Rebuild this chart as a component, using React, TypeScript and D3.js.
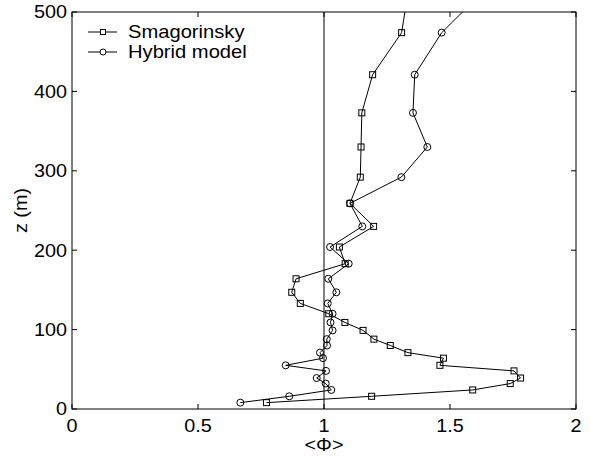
import React from 'react';
import * as d3 from 'd3';

// heights (m) of the sample levels; last one lies above the plot top and gets clipped
const zLevels = [8, 16, 24, 32, 39, 48, 55, 64, 71, 80, 88, 99, 109, 120, 133, 147, 164, 183, 204, 230, 259, 292, 330, 373, 421, 474, 530];
const smagorinsky = [0.772, 1.189, 1.590, 1.739, 1.780, 1.754, 1.460, 1.474, 1.333, 1.263, 1.198, 1.155, 1.083, 1.019, 0.906, 0.872, 0.889, 1.084, 1.061, 1.197, 1.103, 1.144, 1.147, 1.150, 1.193, 1.308, 1.336];
const hybrid = [0.668, 0.862, 1.029, 1.007, 0.971, 1.008, 0.848, 0.996, 0.984, 1.012, 1.011, 1.034, 1.026, 1.034, 1.015, 1.049, 1.017, 1.098, 1.024, 1.152, 1.103, 1.307, 1.410, 1.353, 1.360, 1.467, 1.645];

const xTicks = [0, 0.5, 1, 1.5, 2];
const yTicks = [0, 100, 200, 300, 400, 500];
const seriesNames = ['Smagorinsky', 'Hybrid model'];

const W = 590;
const H = 457;
const margin = { top: 12, right: 14, bottom: 48, left: 72 };
const font = '"Liberation Sans", Arial, sans-serif';

// the original figure's lettering is a bit wider than Liberation Sans, so stretch it slightly
function Label({ x, y, anchor = 'start', size = 18, rotate = 0, stretch = 1.1, dy = '0', children }: any) {
  return (
    <g transform={`translate(${x},${y}) rotate(${rotate}) scale(${stretch},1)`}>
      <text x={0} y={0} dy={dy} textAnchor={anchor} fontSize={size}>{children}</text>
    </g>
  );
}

export default function App() {
  const x = d3.scaleLinear().domain([0, 2]).range([margin.left, W - margin.right]);
  const y = d3.scaleLinear().domain([0, 500]).range([H - margin.bottom, margin.top]);
  const [x0, x1] = x.range();
  const [y0, y1] = y.range();

  const line = d3.line<number>()
    .x((d) => x(d))
    .y((_, i) => y(zLevels[i]));

  const tick = 5;

  return (
    <svg
      width={W}
      height={H}
      style={{ position: 'absolute', left: 0, top: 0, background: '#fff' }}
      fontFamily={font}
    >
      <defs>
        <clipPath id="plot">
          <rect x={x0} y={y1} width={x1 - x0} height={y0 - y1} />
        </clipPath>
      </defs>

      {/* reference line at <Phi> = 1 */}
      <line x1={x(1)} x2={x(1)} y1={y0} y2={y1} stroke="#000" strokeWidth={1} />

      <g clipPath="url(#plot)">
        <path d={line(smagorinsky) || ''} fill="none" stroke="#000" strokeWidth={1} />
        <path d={line(hybrid) || ''} fill="none" stroke="#000" strokeWidth={1} />
        {smagorinsky.map((v, i) => (
          <rect key={'s' + i} x={x(v) - 3} y={y(zLevels[i]) - 3} width={6} height={6} fill="none" stroke="#000" strokeWidth={1} />
        ))}
        {hybrid.map((v, i) => (
          <circle key={'h' + i} cx={x(v)} cy={y(zLevels[i])} r={3.5} fill="none" stroke="#000" strokeWidth={1} />
        ))}
      </g>

      {/* frame */}
      <rect x={x0} y={y1} width={x1 - x0} height={y0 - y1} fill="none" stroke="#000" strokeWidth={1} />

      {/* x ticks, inward on bottom and top */}
      {xTicks.map((t) => (
        <g key={'xt' + t}>
          <line x1={x(t)} x2={x(t)} y1={y0} y2={y0 - tick} stroke="#000" />
          <line x1={x(t)} x2={x(t)} y1={y1} y2={y1 + tick} stroke="#000" />
          <Label x={x(t)} y={432} anchor="middle">{t}</Label>
        </g>
      ))}

      {/* y ticks, inward on left and right */}
      {yTicks.map((t) => (
        <g key={'yt' + t}>
          <line x1={x0} x2={x0 + tick} y1={y(t)} y2={y(t)} stroke="#000" />
          <line x1={x1} x2={x1 - tick} y1={y(t)} y2={y(t)} stroke="#000" />
          <Label x={67} y={y(t)} dy="0.36em" anchor="end">{t}</Label>
        </g>
      ))}

      <Label x={x(1)} y={451} anchor="middle">{'<Φ>'}</Label>
      <Label x={27} y={(y0 + y1) / 2} anchor="middle" rotate={-90}>z (m)</Label>

      {/* legend */}
      {seriesNames.map((name, i) => {
        const ly = 32 + i * 20;
        return (
          <g key={name}>
            <line x1={88} x2={117} y1={ly} y2={ly} stroke="#000" />
            {i === 0 ? (
              <rect x={100.5} y={ly - 2.5} width={5} height={5} fill="#fff" stroke="#000" />
            ) : (
              <circle cx={103} cy={ly} r={3} fill="#fff" stroke="#000" />
            )}
            <Label x={128} y={ly} dy="0.36em" stretch={1.12}>{name}</Label>
          </g>
        );
      })}
    </svg>
  );
}
